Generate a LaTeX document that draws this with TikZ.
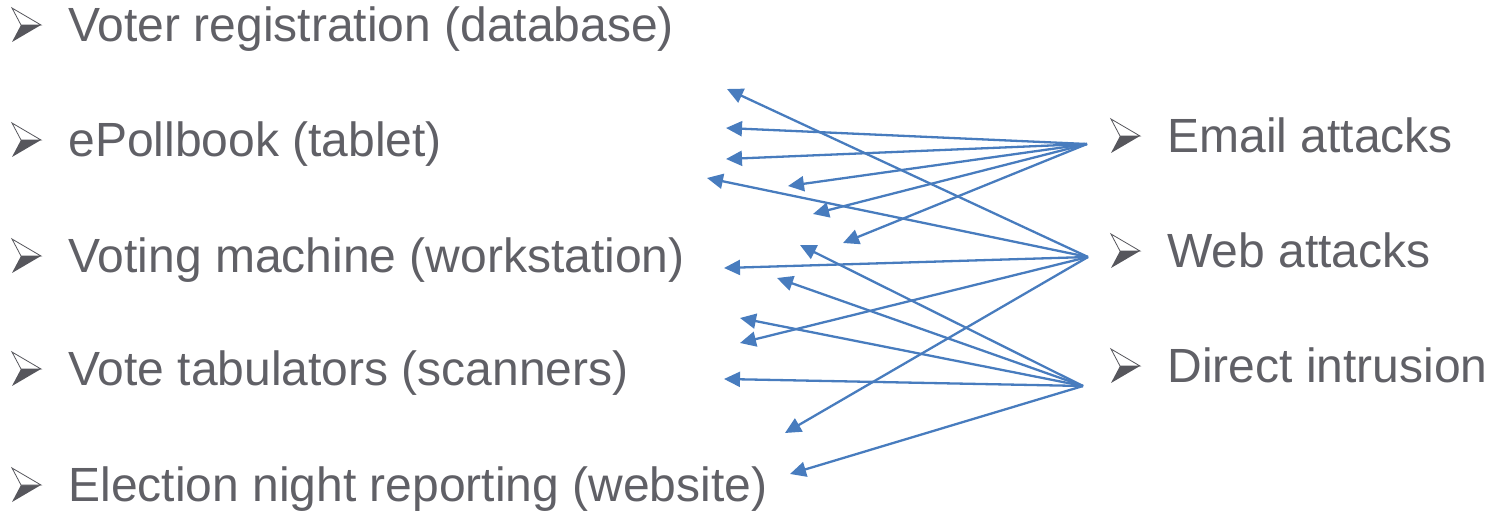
\documentclass[tikz,border=0pt]{standalone}
\usepackage{fontspec}
\setmainfont{Liberation Sans}
\usetikzlibrary{arrows.meta, positioning, calc}
\definecolor{mygray}{RGB}{96,96,102}
\definecolor{mydark}{RGB}{86,86,92}
\definecolor{myblue}{RGB}{72,124,190}
\tikzset{
  item/.style={anchor=base west, inner sep=0pt, text=mygray,
    font=\fontsize{24}{28}\selectfont},
  attack/.style={-{Triangle[length=8pt, width=7.5pt]}, line width=1.15pt, color=myblue},
  bul/.pic={
    \fill[mydark] (9,17) -- (29,17) -- (0,34) -- cycle;
    \filldraw[fill=white, draw=mydark, line width=0.4pt] (0,0) -- (29,17) -- (9,17) -- cycle;
  }
}
\begin{document}
\begin{tikzpicture}[x=0.5pt, y=-0.5pt]
  \useasboundingbox (0,0) rectangle (1490,513);

  % Targets
  \node[item] (voter) at (68,42) {Voter registration (database)};
  \node[item] (pollbook) at (68,157) {ePollbook (tablet)};
  \node[item] (machine) at (68,273) {Voting machine (workstation)};
  \node[item] (tabulator) at (68,386) {Vote tabulators (scanners)};
  \node[item] (reporting) at (68,502) {Election night reporting (website)};

  % Attacks
  \node[item] (email) at (1167,153) {Email attacks};
  \node[item] (web) at (1167,268) {Web attacks};
  \node[item] (direct) at (1167,383) {Direct intrusion};

  % Bullets
  \foreach \n in {voter, pollbook, machine, tabulator, reporting, email, web, direct}
    \pic at ($(\n.base west)+(-56,-34)$) {bul};

  % Sources of the arrows
  \coordinate (email src) at ($(email.base west)+(-80,-9)$);
  \coordinate (web src) at ($(web.base west)+(-79,-11)$);
  \coordinate (direct src) at ($(direct.base west)+(-84,3)$);

  % Arrows
  \foreach \p in {(726,128), (726,159), (788,186), (813,214), (843,243)}
    \draw[attack] (email src) -- \p;
  \foreach \p in {(727,89), (707,178), (724,268), (740,343), (785,433)}
    \draw[attack] (web src) -- \p;
  \foreach \p in {(800,245), (777,278), (740,318), (724,379), (790,474)}
    \draw[attack] (direct src) -- \p;
\end{tikzpicture}
\end{document}
